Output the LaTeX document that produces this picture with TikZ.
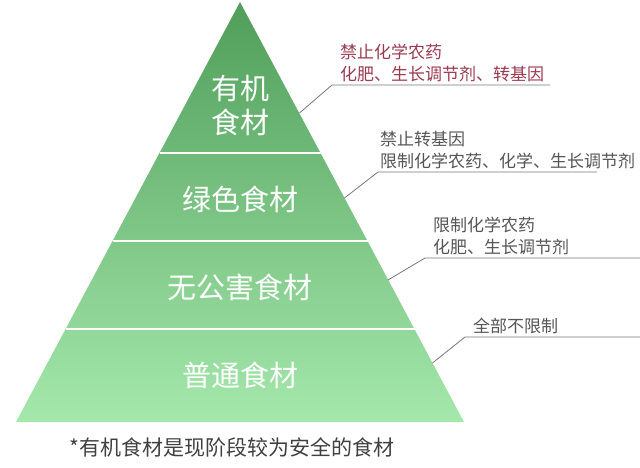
\documentclass[tikz,border=0pt]{standalone}
\usepackage{fontspec}
\setmainfont{Noto Sans CJK SC}
\usetikzlibrary{positioning}

\definecolor{tipgreen}{RGB}{80,158,90}
\definecolor{midgreen}{RGB}{112,192,122}
\definecolor{basegreen}{RGB}{165,232,172}
\definecolor{notered}{RGB}{155,58,80}
\definecolor{notegray}{RGB}{85,85,85}
\definecolor{linegray}{RGB}{120,120,120}

\begin{document}
\begin{tikzpicture}[x=1pt, y=-1pt,
    level/.style={text=white, font=\fontsize{29}{34}\selectfont, align=center},
    note/.style={anchor=south west, inner sep=0pt, align=left, text=notegray, font=\fontsize{17}{22}\selectfont},
    leader/.style={draw=linegray, line width=0.8pt},
    divider/.style={draw=white, line width=2pt}]
                \useasboundingbox (0,0) rectangle (640,468);
                % pyramid
                \coordinate (apex) at (240,2);
                \coordinate (bl) at (16,422);
                \coordinate (br) at (464,422);
                \shade[top color=tipgreen, middle color=midgreen, bottom color=basegreen] (apex) -- (br) -- (bl) -- cycle;
                \draw[divider] (159.5,153) -- (320.5,153);
                \draw[divider] (112.5,241) -- (367.5,241);
                \draw[divider] (65.5,329) -- (414.5,329);

                \node[level] (organic) at (240,105) {有机\\食材};
                \node[level] (green) at (240,199) {绿色食材};
                \node[level] (safe) at (240,287) {无公害食材};
                \node[level] (common) at (240,375) {普通食材};

                % callouts
                \coordinate (e1) at (299.5,113);
                \coordinate (k1) at (332,85);
                \coordinate (t1) at (550,85);
                \coordinate (e2) at (344.5,198);
                \coordinate (k2) at (378,172);
                \coordinate (t2) at (597,172);
                \coordinate (e3) at (388,280);
                \coordinate (k3) at (425,258);
                \coordinate (t3) at (640,258);
                \coordinate (e4) at (432.5,363);
                \coordinate (k4) at (465,337);
                \coordinate (t4) at (640,337);
                \draw[leader] (e1) -- (k1) -- (t1);
                \draw[leader] (e2) -- (k2) -- (t2);
                \draw[leader] (e3) -- (k3) -- (t3);
                \draw[leader] (e4) -- (k4) -- (t4);

                \node[note, text=notered] (ban) at (340,82) {禁止化学农药\\化肥、生长调节剂、转基因};
                \node[note] (limit) at (380,169) {禁止转基因\\限制化学农药、化学、生长调节剂};
                \node[note] (lesser) at (433,255) {限制化学农药\\化肥、生长调节剂};
                \node[note] (free) at (473,334) {全部不限制};

                \node[font=\fontsize{21}{24}\selectfont, text=black!75] (foot) at (232,447) {*有机食材是现阶段较为安全的食材};
            \end{tikzpicture}
\end{document}
